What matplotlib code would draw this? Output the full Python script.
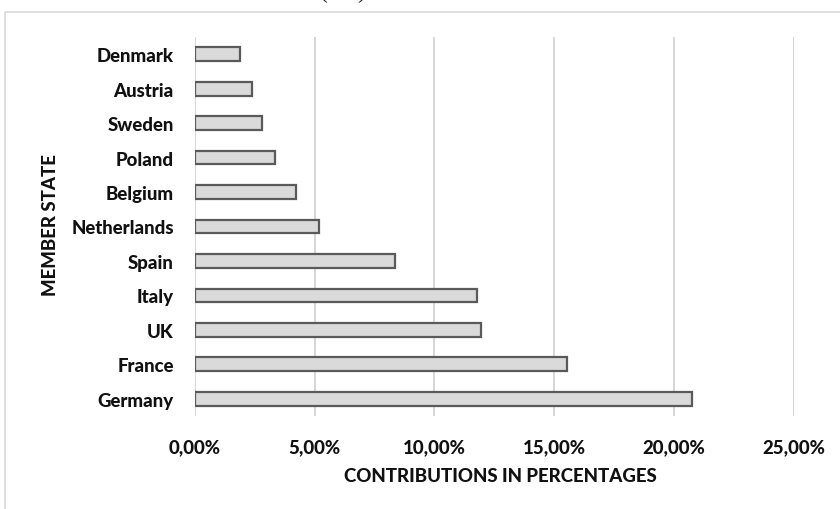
import numpy as np
import matplotlib.pyplot as plt
from matplotlib.patches import Rectangle

# contributions by member state, bottom to top
states = ["Germany", "France", "UK", "Italy", "Spain", "Netherlands",
          "Belgium", "Poland", "Sweden", "Austria", "Denmark"]
shares = [20.75, 15.55, 11.93, 11.79, 8.34, 5.18, 4.21, 3.35, 2.79, 2.37, 1.88]

x_ticks = [0, 5, 10, 15, 20, 25]
x_tick_labels = ["0,00%", "5,00%", "10,00%", "15,00%", "20,00%", "25,00%"]

font = ["Lato", "DejaVu Sans"]
fsize = 13.4
weight = "black"

fig = plt.figure(figsize=(8.4, 5.1), dpi=100)
ax = fig.add_axes([0.2318, 0.1824, 0.7134, 0.7431])

# outer chart frame
fig.patches.append(Rectangle((5 / 840, -0.01), 1.0, 1 - 13 / 510 + 0.01,
                             transform=fig.transFigure, fill=False,
                             edgecolor="#d9d9d9", linewidth=1.2))

# bottom of the title line sits just above the top edge
fig.text(320 / 840, 1.0 + 2 / 510, "(", family="Liberation Serif", fontsize=17,
         va="baseline", ha="left", color="#222222")
fig.text(357 / 840, 1.0 + 2 / 510, ")", family="Liberation Serif", fontsize=17,
         va="baseline", ha="left", color="#222222")

y = np.arange(len(states))
ax.barh(y, shares, height=0.4, color="#dadada", edgecolor="#5a5a5a",
        linewidth=1.6, zorder=3)

ax.set_xlim(0, 25)
ax.set_ylim(-0.5, len(states) - 0.5)
ax.set_xticks(x_ticks)
ax.set_xticklabels(x_tick_labels)
ax.set_yticks(y)
ax.set_yticklabels(states)
ax.tick_params(length=0)
ax.tick_params(axis="y", pad=15)
ax.tick_params(axis="x", pad=16)
for lab in ax.get_xticklabels() + ax.get_yticklabels():
    lab.set_family(font)
    lab.set_fontweight(weight)
    lab.set_fontsize(fsize)
    lab.set_color("#111111")

ax.grid(axis="x", color="#d6d6d6", linewidth=1.4, zorder=0)
for s in ax.spines.values():
    s.set_visible(False)

fig.text(500 / 840, 1 - 477 / 510, "CONTRIBUTIONS IN PERCENTAGES",
         family=font, fontweight=weight, fontsize=fsize, ha="center",
         va="center", color="#111111")
fig.text(51 / 840, 1 - 225 / 510, "MEMBER STATE", family=font,
         fontweight=weight, fontsize=fsize, rotation=90, ha="center",
         va="center", color="#111111")

fig.savefig("out.png", dpi=100)
